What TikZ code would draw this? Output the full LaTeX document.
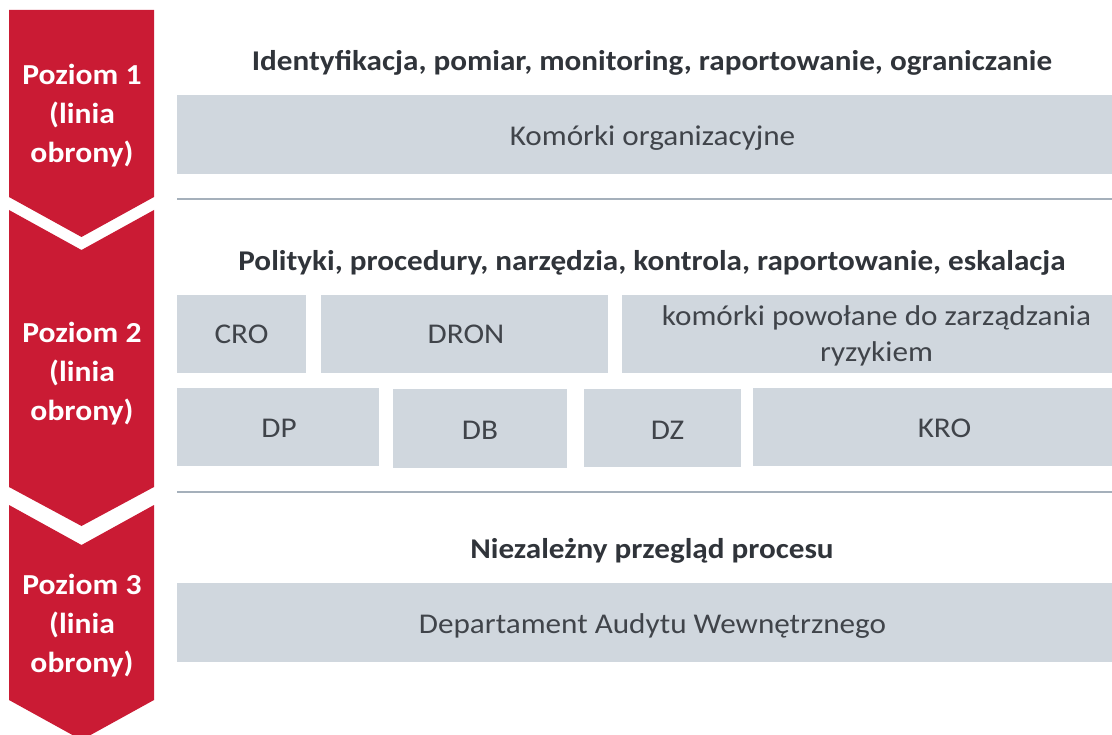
\documentclass[tikz,border=0pt]{standalone}
\usepackage{fontspec}
\setmainfont{Carlito}[FakeStretch=1.09]
\definecolor{lodred}{RGB}{202,27,52}
\definecolor{boxgray}{RGB}{208,215,222}
\definecolor{sepgray}{RGB}{165,176,187}
\definecolor{txtdark}{RGB}{48,52,58}
\definecolor{txtbox}{RGB}{64,68,74}
\begin{document}
\begin{tikzpicture}[x=1pt,y=-1pt,
  chev/.style={fill=lodred,draw=none},
  chevtxt/.style={text=white,font=\fontsize{29}{39}\selectfont\bfseries,align=center,inner sep=0pt},
  head/.style={text=txtdark,font=\fontsize{28.6}{32}\selectfont\bfseries,inner sep=0pt},
  cell/.style={fill=boxgray,draw=none,inner sep=0pt},
  celltxt/.style={text=txtbox,font=\fontsize{28.6}{36}\selectfont,align=center,inner sep=0pt},
  sep/.style={draw=sepgray,line width=2pt}]
\useasboundingbox (0,0) rectangle (1112,735);
\clip (0,0) rectangle (1112,735);
% chevrons
\path[chev] (9,10) -- (154,10) -- (154,197) -- (81.5,237) -- (9,197) -- cycle;
\path[chev] (9,210) -- (81.5,250) -- (154,210) -- (154,487) -- (81.5,526) -- (9,487) -- cycle;
\path[chev] (9,505) -- (81.5,545) -- (154,505) -- (154,700) -- (81.5,740) -- (9,700) -- cycle;
\node[chevtxt] (l1) at (82,116) {Poziom 1\\(linia\\obrony)};
\node[chevtxt] (l2) at (82,374) {Poziom 2\\(linia\\obrony)};
\node[chevtxt] (l3) at (82,626) {Poziom 3\\(linia\\obrony)};
% headers
\node[head] (h1) at (652,63) {Identyfikacja, pomiar, monitoring, raportowanie, ograniczanie};
\node[head] (h2) at (652,263) {Polityki, procedury, narzędzia, kontrola, raportowanie, eskalacja};
\node[head] (h3) at (652,551) {Niezależny przegląd procesu};
% boxes
\node[cell,minimum width=935pt,minimum height=79pt] (kom) at (644.5,134.5) {};
\node[cell,minimum width=129pt,minimum height=78pt] (cro) at (241.5,334) {};
\node[cell,minimum width=287pt,minimum height=78pt] (dron) at (464.5,334) {};
\node[cell,minimum width=490pt,minimum height=78pt] (kzr) at (867,334) {};
\node[cell,minimum width=202pt,minimum height=78pt] (dp) at (278,427) {};
\node[cell,minimum width=174pt,minimum height=79pt] (db) at (480,428.5) {};
\node[cell,minimum width=157pt,minimum height=78pt] (dz) at (662.5,428) {};
\node[cell,minimum width=359pt,minimum height=78pt] (kro) at (932.5,427) {};
\node[cell,minimum width=935pt,minimum height=79pt] (daw) at (644.5,622.5) {};
% box texts
\node[celltxt] (komt) at ([xshift=8pt,yshift=-4pt]kom.center) {Komórki organizacyjne};
\node[celltxt] (crot) at ([xshift=0pt,yshift=0pt]cro.center) {CRO};
\node[celltxt] (dront) at ([xshift=1.5pt,yshift=0pt]dron.center) {DRON};
\node[celltxt] (kzrt) at ([xshift=9.5pt,yshift=-2pt]kzr.center) {komórki powołane do zarządzania\\ryzykiem};
\node[celltxt] (dpt) at ([xshift=1pt,yshift=-1pt]dp.center) {DP};
\node[celltxt] (dbt) at ([xshift=0pt,yshift=-2pt]db.center) {DB};
\node[celltxt] (dzt) at ([xshift=5pt,yshift=-2pt]dz.center) {DZ};
\node[celltxt] (krot) at ([xshift=12pt,yshift=-1pt]kro.center) {KRO};
\node[celltxt] (dawt) at ([xshift=8pt,yshift=-4pt]daw.center) {Departament Audytu Wewnętrznego};
% separators
\coordinate (s1a) at (177,199); \coordinate (s1b) at (1112,199);
\coordinate (s2a) at (177,492); \coordinate (s2b) at (1112,492);
\draw[sep] (s1a) -- (s1b);
\draw[sep] (s2a) -- (s2b);
\end{tikzpicture}
\end{document}
